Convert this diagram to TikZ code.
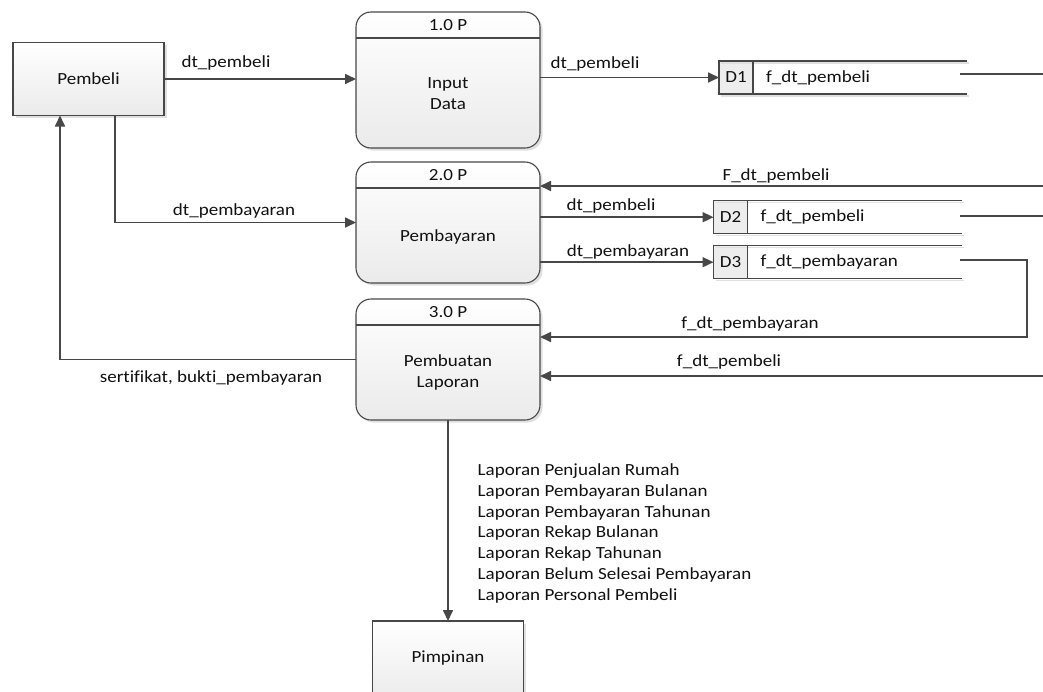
\documentclass[tikz,border=0pt]{standalone}
\usepackage{fontspec}
\setmainfont{Carlito}[FakeStretch=1.12, Ligatures={NoCommon}]
\usetikzlibrary{arrows.meta,shadows,calc}
\definecolor{ln}{HTML}{474747}
\definecolor{tx}{HTML}{111111}
\begin{document}
\begin{tikzpicture}[x=1pt,y=-1pt,
  every node/.style={font=\fontsize{17pt}{20.7pt}\selectfont, text=tx, inner sep=0pt, outer sep=0pt},
  shd/.style={drop shadow={shadow xshift=2.5pt,shadow yshift=-2.5pt,fill=black!30,opacity=0.4}},
  ext/.style={draw=ln, line width=1.1pt, top color=white, bottom color=black!8, shd, minimum width=151pt, minimum height=73pt},
  proc/.style={draw=ln, line width=1.1pt, rounded corners=15pt, top color=white, bottom color=black!8, shd, minimum width=184pt},
  sep/.style={draw=ln, line width=1.1pt},
  storeline/.style={draw=ln, line width=1.3pt},
  flow/.style={draw=ln, line width=1.7pt, -{Triangle[length=11pt,width=10pt]}},
  plain/.style={draw=ln, line width=1.7pt},
  storebox/.style={minimum width=248pt, minimum height=33pt, anchor=north west}
]
\fill[white] (0,0) rectangle (1043,691);
\useasboundingbox (0,0) rectangle (1043,691);

% external entities
\node[ext] (pem) at (88.5,79) {Pembeli};
\node[ext, minimum height=80pt] (pim) at (448,661) {};
\node (pimt) at (448,658) {Pimpinan};

% processes
\node[proc, minimum height=136pt] (p1) at (448,80) {};
\node[proc, minimum height=121pt] (p2) at (448,222.5) {};
\node[proc, minimum height=121pt] (p3) at (448,359.5) {};
\foreach \p/\lab in {p1/1.0 P, p2/2.0 P, p3/3.0 P}{
  \draw[sep] ([yshift=-26pt]\p.north west) -- ([yshift=-26pt]\p.north east);
  \node (\p h) at ([yshift=-13pt]\p.north) {\lab};
}
\node[align=center] (p1b) at (448,93.5) {Input\\Data};
\node (p2b) at (448,237) {Pembayaran};
\node[align=center] (p3b) at (448,372.5) {Pembuatan\\Laporan};

% data stores
\node[storebox] (d1) at (719,61) {};
\node[storebox] (d2) at (713.5,200.7) {};
\node[storebox] (d3) at (713.5,245.7) {};
\foreach \d/\id/\lab in {d1/D1/f\_dt\_pembeli, d2/D2/f\_dt\_pembeli, d3/D3/f\_dt\_pembayaran}{
  \fill[black!7] (\d.north west) rectangle ([xshift=34pt]\d.south west);
  \draw[black!12, line width=1.3pt] ([xshift=2pt,yshift=-2pt]\d.north west) -- ([xshift=2pt,yshift=-2pt]\d.north east);
  \draw[black!12, line width=1.3pt] ([xshift=2pt,yshift=-2pt]\d.south west) -- ([xshift=2pt,yshift=-2pt]\d.south east);
  \draw[storeline] (\d.north east) -- (\d.north west) -- (\d.south west) -- (\d.south east);
  \draw[storeline, line width=1.1pt] ([xshift=34pt]\d.north west) -- ([xshift=34pt]\d.south west);
  \node (\d id) at ([xshift=17pt]\d.west) {\id};
  \node[anchor=west] (\d t) at ([xshift=47pt]\d.west) {\lab};
}

% free ends
\coordinate (d1o) at (960,74.3);
\coordinate (r1) at (1043,74.3);
\coordinate (r2) at (1043,186);
\coordinate (d2o) at (960,215.7);
\coordinate (r3) at (1043,215.7);
\coordinate (d3o) at (960,260);
\coordinate (c8a) at (1026.7,260);
\coordinate (c8b) at (1026.7,337);
\coordinate (r4) at (1043,376);

% connectors
\draw[flow] (pem.east) -- (pem.east -| p1.west);
\draw[flow] (p1.east |- d1) -- (d1.west);
\draw[plain] (d1o) -- (r1);
\draw[flow] (r2) -- (r2 -| p2.east);
\draw[flow] (p2.east |- d2) -- (d2.west);
\draw[plain] (d2o) -- (r3);
\draw[flow] (p2.east |- d3) -- (d3.west);
\draw[flow] (d3o) -- (c8a) -- (c8b) -- (c8b -| p3.east);
\draw[flow] (r4) -- (r4 -| p3.east);
\draw[flow] ([xshift=26.5pt]pem.south) |- (p2.west);
\draw[flow] (p3.west) -| ([xshift=-28.5pt]pem.south);
\draw[flow] (p3.south) -- (pim.north);

% labels
\node (l1) at (226,63) {dt\_pembeli};
\node (l2) at (595,64) {dt\_pembeli};
\node (l3) at (776,176) {F\_dt\_pembeli};
\node (l4) at (611,206) {dt\_pembeli};
\node (l5) at (628,252) {dt\_pembayaran};
\node (l6) at (750,324) {f\_dt\_pembayaran};
\node (l7) at (729,362) {f\_dt\_pembeli};
\node (l8) at (234,211) {dt\_pembayaran};
\node (l9) at (211,378) {sertifikat, bukti\_pembayaran};
\node[align=left, anchor=north west] (l10) at (477.7,464) {Laporan Penjualan Rumah\\Laporan Pembayaran Bulanan\\Laporan Pembayaran Tahunan\\Laporan Rekap Bulanan\\Laporan Rekap Tahunan\\Laporan Belum Selesai Pembayaran\\Laporan Personal Pembeli};
\end{tikzpicture}
\end{document}
